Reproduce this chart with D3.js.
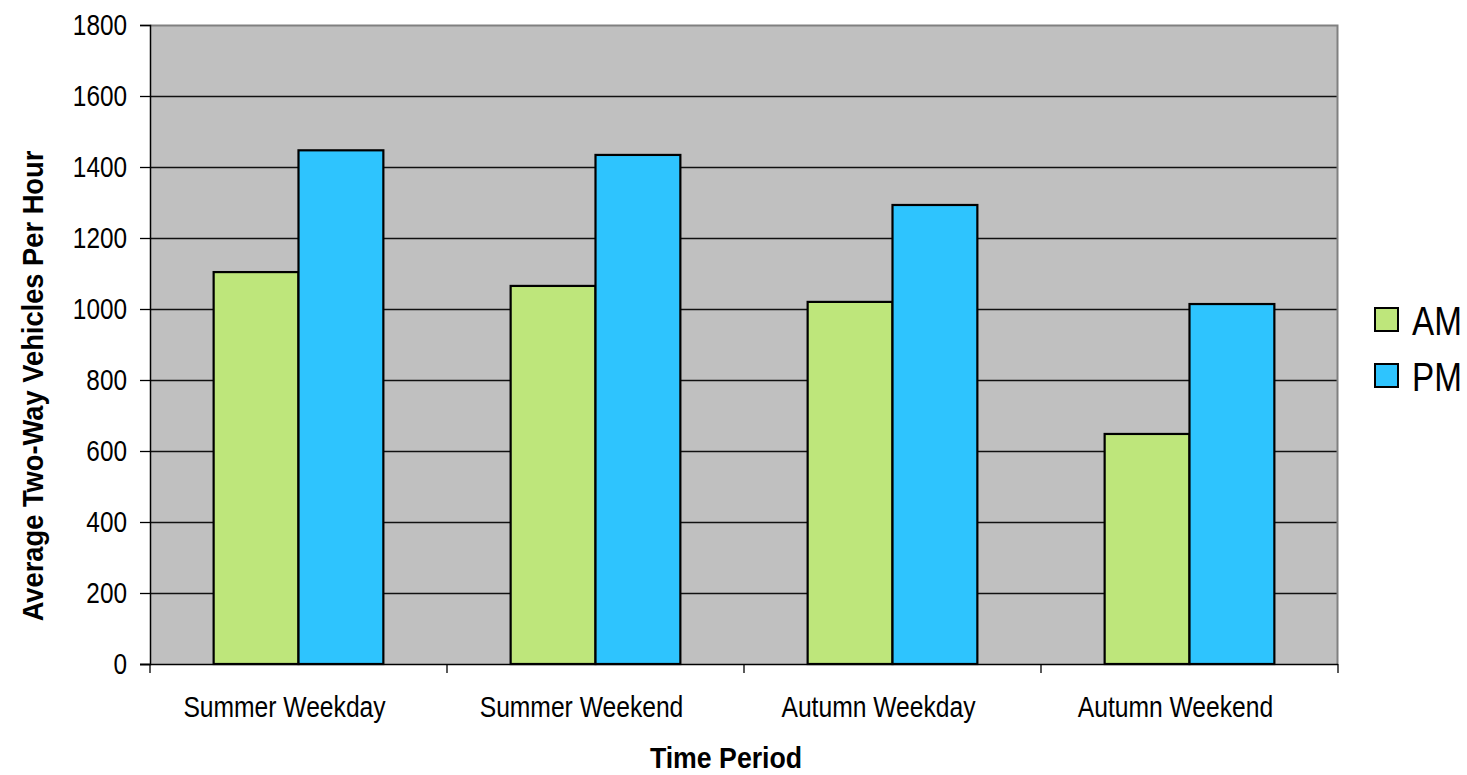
<!DOCTYPE html>
<html>
<head>
<meta charset="utf-8">
<script src="https://cdn.jsdelivr.net/npm/d3@7"></script>
<style>
  html, body { margin: 0; padding: 0; background: #fff; }
  svg text { font-family: "Liberation Sans", Arial, sans-serif; fill: #000; }
</style>
</head>
<body>
<svg id="chart" width="1467" height="775"></svg>
<script>
// Average two-way traffic volumes by time period
const categories = ["Summer Weekday", "Summer Weekend", "Autumn Weekday", "Autumn Weekend"];
const seriesNames = ["AM", "PM"];
const amValues = [1104, 1065, 1020, 648];
const pmValues = [1447, 1434, 1293, 1014];
const yTicks = [0, 200, 400, 600, 800, 1000, 1200, 1400, 1600, 1800];
const seriesColors = ["#bee67b", "#2ec4fe"];

const svg = d3.select("#chart");
const plot = { left: 150, top: 25, right: 1338, bottom: 664 };

// narrow-typeface look: squeeze each text horizontally about its own anchor
function condense(sel, factor) {
  sel.each(function () {
    const t = d3.select(this);
    const x = +t.attr("x") || 0, yy = +t.attr("y") || 0;
    const prev = t.attr("transform") || "";
    t.attr("x", 0).attr("y", 0)
      .attr("transform", `${prev} translate(${x},${yy}) scale(${factor},1)`);
  });
}

const x0 = d3.scaleBand().domain(categories).range([plot.left, plot.right]).paddingInner(0).paddingOuter(0);
const x1 = d3.scaleBand().domain(seriesNames).range([0, x0.bandwidth()]).paddingInner(0).paddingOuter(0.75);
const y = d3.scaleLinear().domain([0, 1800]).range([plot.bottom, plot.top]);

// plot background
svg.append("rect")
  .attr("x", plot.left).attr("y", plot.top)
  .attr("width", plot.right - plot.left).attr("height", plot.bottom - plot.top)
  .attr("fill", "#c0c0c0");

// horizontal gridlines
svg.append("g").selectAll("line")
  .data(yTicks.filter(d => d > 0 && d < 1800))
  .join("line")
  .attr("x1", plot.left).attr("x2", plot.right)
  .attr("y1", d => Math.round(y(d)) + 0.5).attr("y2", d => Math.round(y(d)) + 0.5)
  .attr("stroke", "#111").attr("stroke-width", 1.3);

// top and right border of the plot
svg.append("path")
  .attr("d", `M${plot.left},${plot.top + 0.5}H${plot.right - 0.5}V${plot.bottom}`)
  .attr("fill", "none").attr("stroke", "#808080").attr("stroke-width", 2);

// bars
const data = categories.map((c, i) => ({ cat: c, values: [amValues[i], pmValues[i]] }));
const groups = svg.append("g").selectAll("g")
  .data(data)
  .join("g")
  .attr("transform", d => `translate(${x0(d.cat)},0)`);
groups.selectAll("rect")
  .data(d => d.values.map((v, k) => ({ key: seriesNames[k], value: v, k })))
  .join("rect")
  .attr("x", d => x1(d.key))
  .attr("y", d => y(d.value))
  .attr("width", x1.bandwidth())
  .attr("height", d => y(0) - y(d.value))
  .attr("fill", d => seriesColors[d.k])
  .attr("stroke", "#000").attr("stroke-width", 2.2);

// y axis
const yAxis = d3.axisLeft(y).tickValues(yTicks).tickSize(10).tickPadding(13).tickFormat(d3.format("d"));
const gy = svg.append("g").attr("transform", `translate(${plot.left},0)`).call(yAxis);
gy.select(".domain").attr("stroke", "#000").attr("stroke-width", 1.5);
gy.selectAll(".tick line").attr("stroke", "#000").attr("stroke-width", 1.3);
gy.attr("font-family", null).attr("font-size", null);
gy.selectAll(".tick text").attr("font-size", 29).attr("fill", "#000");
condense(gy.selectAll(".tick text"), 0.84);

// x axis: ticks at category boundaries
const xAxisG = svg.append("g");
xAxisG.append("line")
  .attr("x1", plot.left - 10).attr("x2", plot.right)
  .attr("y1", plot.bottom + 0.5).attr("y2", plot.bottom + 0.5)
  .attr("stroke", "#000").attr("stroke-width", 1.5);
const boundaries = categories.map(c => x0(c)).concat([x0(categories[categories.length - 1]) + x0.bandwidth()]);
xAxisG.selectAll("line.tk")
  .data(boundaries)
  .join("line").attr("class", "tk")
  .attr("x1", d => d).attr("x2", d => d)
  .attr("y1", plot.bottom).attr("y2", plot.bottom + 9)
  .attr("stroke", "#000").attr("stroke-width", 1.3);
const catLabels = xAxisG.selectAll("text")
  .data(categories)
  .join("text")
  .attr("x", d => x0(d) + x0.bandwidth() / 2 - 14)
  .attr("y", 717)
  .attr("text-anchor", "middle")
  .attr("font-size", 29)
  .text(d => d);
condense(catLabels, 0.85);

// axis titles
const xTitle = svg.append("text")
  .attr("x", 726).attr("y", 768)
  .attr("text-anchor", "middle").attr("font-size", 30).attr("font-weight", "bold")
  .text("Time Period");
condense(xTitle, 0.89);
const yTitle = svg.append("text")
  .attr("transform", `translate(43,386) rotate(-90)`)
  .attr("text-anchor", "middle").attr("font-size", 30).attr("font-weight", "bold")
  .text("Average Two-Way Vehicles Per Hour");
condense(yTitle, 0.91);

// legend
const legend = svg.append("g").selectAll("g")
  .data(seriesNames)
  .join("g")
  .attr("transform", (d, i) => `translate(1375,${308 + i * 56})`);
legend.append("rect")
  .attr("width", 23).attr("height", 23)
  .attr("fill", (d, i) => seriesColors[i])
  .attr("stroke", "#000").attr("stroke-width", 2);
const legendText = legend.append("text")
  .attr("x", 37).attr("y", 27)
  .attr("font-size", 41)
  .text(d => d);
condense(legendText, 0.81);
</script>
</body>
</html>
